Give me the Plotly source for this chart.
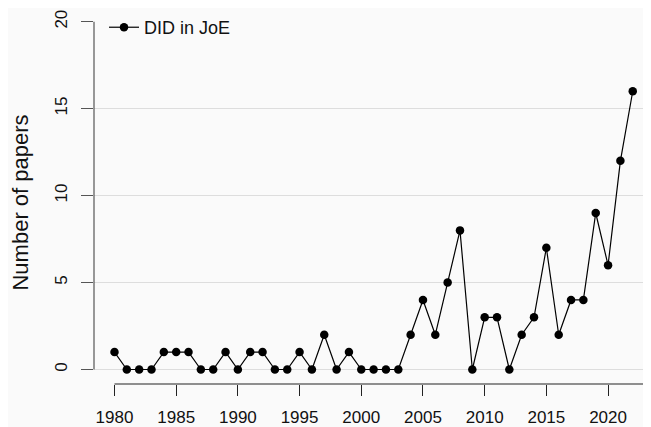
import plotly.graph_objects as go

years = list(range(1980, 2023))
papers = [1, 0, 0, 0, 1, 1, 1, 0, 0, 1,
          0, 1, 1, 0, 0, 1, 0, 2, 0, 1,
          0, 0, 0, 0, 2, 4, 2, 5, 8, 0,
          3, 3, 0, 2, 3, 7, 2, 4, 4, 9,
          6, 12, 16]
series_name = "DID in JoE"
x_ticks = [1980, 1985, 1990, 1995, 2000, 2005, 2010, 2015, 2020]
y_ticks = [0, 5, 10, 15, 20]

XMIN, XMAX = 1978.34, 2023.48
YMIN, YMAX = -0.834, 20.04

fig = go.Figure()
fig.add_trace(go.Scatter(
    x=years, y=papers, mode="lines+markers", name=series_name,
    line=dict(color="black", width=1.2),
    marker=dict(size=8.5, color="black"),
    showlegend=True,
))

fig.update_layout(
    width=643, height=419,
    margin=dict(l=86, r=0, t=13, b=43, autoexpand=False),
    paper_bgcolor="#FAFAFA", plot_bgcolor="#FAFAFA",
    font=dict(family="Liberation Sans, Arial, sans-serif", size=18, color="#111111"),
    showlegend=True,
    legend=dict(x=0.018, y=1.033, xanchor="left", yanchor="top",
                bgcolor="rgba(0,0,0,0)", font=dict(size=18),
                itemwidth=30),
    xaxis=dict(range=[XMIN, XMAX], tickvals=x_ticks, ticks="outside",
               ticklen=11, tickcolor="#222222", tickwidth=1,
               showgrid=False, zeroline=False, showline=False,
               automargin=False, ticklabelstandoff=7,
               tickfont=dict(size=17),
               ticklabeloverflow="allow"),
    yaxis=dict(range=[YMIN, YMAX], tickvals=y_ticks, ticks="outside",
               ticklen=12, tickcolor="#555555", tickwidth=1, tickangle=-90,
               showgrid=True, gridcolor="#DDDDDD", gridwidth=1,
               zeroline=False, showline=False, ticklabelstandoff=7,
               tickfont=dict(size=17),
               automargin=False, ticklabeloverflow="allow",
               title=dict(text="Number of papers", standoff=33)),
    shapes=[
        dict(type="line", xref="paper", yref="y", x0=0, x1=0, y0=0, y1=20,
             line=dict(color="#555555", width=1.2)),
        dict(type="line", xref="x", yref="paper", x0=1980, x1=XMAX, y0=0, y1=0,
             line=dict(color="#222222", width=1.2)),
    ],
)

fig.write_html("out.html")
